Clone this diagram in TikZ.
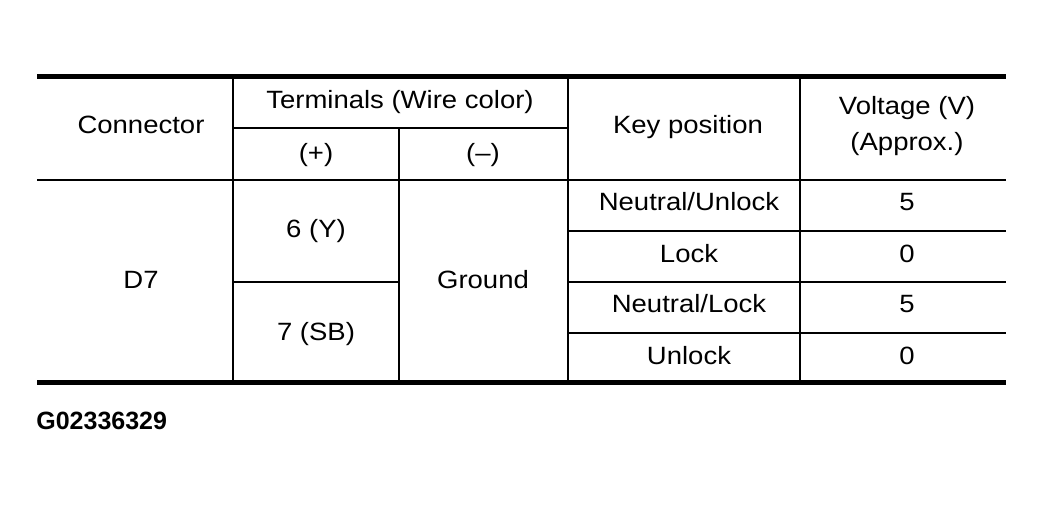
\documentclass[tikz,border=0pt]{standalone}
\usepackage{fontspec}
\setmainfont[FakeStretch=1.1]{Liberation Sans}
\newfontfamily\codefont{Liberation Sans}
\usetikzlibrary{positioning}
\begin{document}
\begin{tikzpicture}[x=0.5pt,y=-0.5pt,
                every node/.style={font=\fontsize{12.5}{15}\selectfont,inner sep=0pt,text height=0.72em,text depth=0pt},
                thinrule/.style={line width=1pt},
                thickrule/.style={line width=2.5pt}]
             \useasboundingbox (0,0) rectangle (1044,506);
             \coordinate (tl) at (37,77);  \coordinate (tr) at (1006,77);
             \coordinate (bl) at (37,383); \coordinate (br) at (1006,383);
             \draw[thickrule] (tl) -- (tr);
             \draw[thickrule] (bl) -- (br);
             \draw[thinrule] (37,180) -- (1006,180);
             \draw[thinrule] (233,128) -- (568,128);
             \draw[thinrule] (233,282) -- (399,282);
             \foreach \y in {231,282,333}
                \draw[thinrule] (568,\y) -- (1006,\y);
             \foreach \x in {233,568,800}
                \draw[thinrule] (\x,77) -- (\x,383);
             \draw[thinrule] (399,128) -- (399,383);
             \node (conn) at (141,126) {Connector};
             \node (term) at (400,101) {Terminals (Wire color)};
             \node (plus) at (316,154) {(+)};
             \node (minus) at (483,154) {(--)};
             \node (key) at (688,126) {Key position};
             \node (volt) at (907,107) {Voltage (V)};
             \node (approx) at (907,143) {(Approx.)};
             \node (dseven) at (141,281) {D7};
             \node (six) at (316,230) {6 (Y)};
             \node (seven) at (316,333) {7 (SB)};
             \node (gnd) at (483,281) {Ground};
             \foreach \k/\v/\y in {Neutral\slash Unlock/5/203, Lock/0/255, Neutral\slash Lock/5/305, Unlock/0/357}
                {\node at (689,\y) {\k}; \node at (907,\y) {\v};}
             \node[anchor=west,font=\codefont\bfseries\fontsize{12.5}{15}\selectfont] (code) at (36,422) {G02336329};
             \end{tikzpicture}
\end{document}
